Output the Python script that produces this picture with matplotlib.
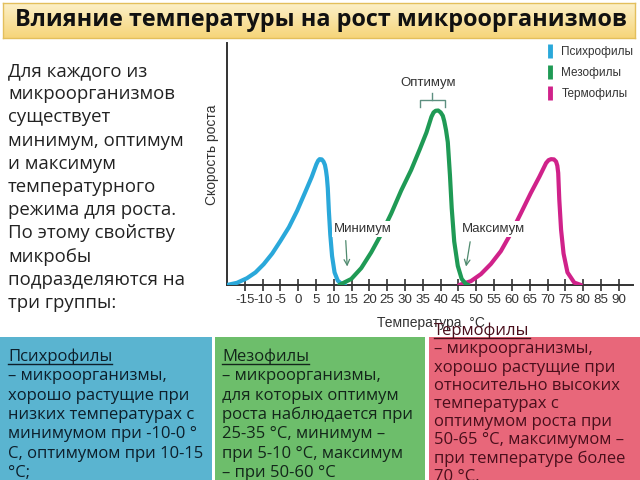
import numpy as np
import matplotlib
matplotlib.use('Agg')
import matplotlib.pyplot as plt
from matplotlib.lines import Line2D
from matplotlib.patches import Rectangle
from matplotlib.colors import LinearSegmentedColormap

plt.rcParams['font.family'] = ['Liberation Sans', 'DejaVu Sans']

# growth curves: temperature, deg C / growth rate, % of axis height
psychro_t = [-20, -17.2, -14.4, -12.0, -9.7, -7.3, -5.0, -2.6, -0.3, 2.0, 3.8, 5.1, 5.6,
             6.0, 6.6, 7.1, 7.5, 7.8, 8.05, 8.3, 8.6, 9.0, 9.5, 10.2, 11.1, 12.3, 13.2]
psychro_v = [0, 0.9, 2.8, 5.2, 8.6, 13.0, 18.2, 23.9, 30.7, 38.5, 44.7, 49.9, 51.4,
             52.0, 51.9, 51.0, 49.6, 47.3, 44.5, 40.0, 30.7, 20.8, 12.0, 5.2, 1.8, 0.3, 0]
meso_t = [11.5, 14.9, 17.7, 20.5, 23.3, 26.1, 28.9, 31.7, 34.1, 36.0, 37.4, 38.0, 38.6,
          39.3, 40.0, 40.6, 41.0, 41.5, 42.0, 42.6, 43.1, 43.8, 44.8, 45.9, 47.1, 47.8]
meso_v = [0, 2.5, 7.0, 13.5, 21.0, 29.5, 39.0, 47.5, 56.0, 63.0, 69.5, 71.3, 72.0,
          72.1, 71.3, 69.9, 67.7, 64.0, 59.0, 45.4, 31.7, 18.0, 7.9, 2.5, 0.4, 0]
thermo_t = [45.2, 48.5, 51.3, 54.1, 56.9, 59.7, 62.5, 65.3, 67.7, 69.6, 70.3, 71.0,
            71.8, 72.4, 72.75, 73.0, 73.3, 73.8, 74.5, 75.6, 77.5, 79.4]
thermo_v = [0, 1.6, 4.5, 8.7, 14.0, 21.3, 29.6, 38.0, 44.7, 50.4, 51.6, 52.0,
            51.9, 51.0, 49.3, 46.3, 35.4, 22.9, 13.0, 5.2, 1.0, 0]

ticks = [-15, -10, -5, 0, 5, 10, 15, 20, 25, 30, 35, 40, 45, 50, 55, 60, 65, 70,
         75, 80, 85, 90]
groups = ['Психрофилы', 'Мезофилы', 'Термофилы']
colors = ['#2aa8da', '#1f9a55', '#d0228a']
optimum_range = [34.2, 41.2]

title = 'Влияние температуры на рост микроорганизмов'
intro = ['Для каждого из', 'микроорганизмов', 'существует', 'минимум, оптимум',
         'и максимум', 'температурного', 'режима для роста.', 'По этому свойству',
         'микробы', 'подразделяются на', 'три группы:']
psychro_text = ['– микроорганизмы,', 'хорошо растущие при', 'низких температурах с',
                'минимумом при -10-0 °', 'С, оптимумом при 10-15', '°С;']
meso_text = ['– микроорганизмы,', 'для которых оптимум', 'роста наблюдается при',
             '25-35 °С, минимум –', 'при 5-10 °С, максимум', '– при 50-60 °С']
thermo_text = ['– микроорганизмы,', 'хорошо растущие при', 'относительно высоких',
               'температурах с', 'оптимумом роста при', '50-65 °С, максимумом –',
               'при температуре более', '70 °С.']

W, H = 640, 480
fig = plt.figure(figsize=(6.4, 4.8), dpi=100)
fig.patch.set_facecolor('white')

# title bar
axt = fig.add_axes([3 / W, 1 - 38 / H, 632 / W, 35 / H])
cmap = LinearSegmentedColormap.from_list('bar', ['#fcf0c8', '#f6d57a'])
axt.imshow(np.linspace(0, 1, 50).reshape(-1, 1), cmap=cmap, aspect='auto',
           extent=[0, 1, 0, 1])
axt.set_xticks([])
axt.set_yticks([])
for s in axt.spines.values():
    s.set_color('#e3bf5c')
    s.set_linewidth(1)
axt.text(0.019, 0.5, title, transform=axt.transAxes, ha='left', va='center',
         fontsize=16.8, fontweight='bold', family='Open Sans', color='#111')

# intro paragraph
for i, line in enumerate(intro):
    fig.text(8 / W, 1 - (76 + i * 23.2) / H, line, family='Open Sans', fontsize=13.4,
             va='baseline', color='#222')

# chart
ax = fig.add_axes([227 / W, 195 / H, 406 / W, 242 / H])
ax.plot(psychro_t, psychro_v, color=colors[0], lw=3, solid_capstyle='round',
        solid_joinstyle='round', zorder=3)
ax.plot(meso_t, meso_v, color=colors[1], lw=3, solid_capstyle='round',
        solid_joinstyle='round', zorder=4)
ax.plot(thermo_t, thermo_v, color=colors[2], lw=3, solid_capstyle='round',
        solid_joinstyle='round', zorder=3)
ax.set_xlim(-20, 94)
ax.set_ylim(0, 100)
ax.set_xticks(ticks)
ax.set_xticklabels([str(t) for t in ticks])
ax.set_yticks([])
ax.tick_params(axis='x', direction='inout', length=9, width=1.2, colors='#333',
               labelsize=9.6, pad=2)
for side in ['top', 'right']:
    ax.spines[side].set_visible(False)
for side in ['bottom', 'left']:
    ax.spines[side].set_color('#333')
    ax.spines[side].set_linewidth(1.4)
ax.patch.set_alpha(0)

handles = [Line2D([], [], color=c, marker='|', ls='none', ms=10, mew=3.5) for c in colors]
ax.legend(handles, groups, loc='upper right', bbox_to_anchor=(1.027, 1.03), frameon=False,
          fontsize=8.5, handlelength=0.8, handletextpad=0.55, labelspacing=0.75,
          labelcolor='#333')

brk = '#5d8f80'
mid = sum(optimum_range) / 2
ax.plot([optimum_range[0], optimum_range[0], optimum_range[1], optimum_range[1]],
        [73.5, 76.4, 76.4, 73.5], color=brk, lw=1)
ax.plot([mid, mid], [76.4, 79.5], color=brk, lw=1)
ax.text(mid - 1.2, 83.5, 'Оптимум', ha='center', va='center', fontsize=9.5, color='#333')

ax.text(18.2, 23.1, 'Минимум', ha='center', va='center', fontsize=9.5, color='#333',
        zorder=6, bbox=dict(fc='white', ec='none', pad=1.5))
ax.annotate('', xy=(13.8, 6.5), xytext=(13.3, 19.5),
            arrowprops=dict(arrowstyle='->', color='#4f8a6e', lw=0.9), zorder=6)
ax.text(54.8, 23.0, 'Максимум', ha='center', va='center', fontsize=9.5, color='#333',
        zorder=6, bbox=dict(fc='white', ec='none', pad=1.5))
ax.annotate('', xy=(47.0, 6.5), xytext=(48.4, 19.0),
            arrowprops=dict(arrowstyle='->', color='#4f8a6e', lw=0.9), zorder=6)

ax.text(-0.037, 0.54, 'Скорость роста', rotation=90, transform=ax.transAxes,
        ha='center', va='center', fontsize=10, color='#333')
ax.text(0.502, -0.157, 'Температура  °C', transform=ax.transAxes, ha='center',
        va='center', fontsize=10, color='#333')

# bottom boxes
boxes = [
    (0, 212, '#5ab4d0', '#0d1f2b', groups[0], psychro_text, 8, 361, 19.3),
    (215, 425, '#6dbe6b', '#13261a', groups[1], meso_text, 222, 361, 19.3),
    (429, 640, '#e8677a', '#4a0f1c', groups[2], thermo_text, 434, 335, 18.25),
]
heads = []
for x0, x1, fc, tc, head, lines, tx, y0, step in boxes:
    fig.add_artist(Rectangle((x0 / W, 0), (x1 - x0) / W, (480 - 337) / H,
                             transform=fig.transFigure, fc=fc, ec='none', zorder=0))
    t = fig.text(tx / W, 1 - y0 / H, head, family='Open Sans', fontsize=12,
                 va='baseline', color=tc)
    heads.append((t, y0, tc))
    for i, line in enumerate(lines):
        fig.text(tx / W, 1 - (y0 + (i + 1) * step) / H, line, family='Open Sans',
                 fontsize=12, va='baseline', color=tc)

fig.canvas.draw()
for t, y0, tc in heads:
    bb = t.get_window_extent()
    yl = 1 - (y0 + 2.5) / H
    fig.add_artist(Line2D([bb.x0 / W, bb.x1 / W], [yl, yl], transform=fig.transFigure,
                          color=tc, lw=1))

fig.savefig('out.png', dpi=100)
